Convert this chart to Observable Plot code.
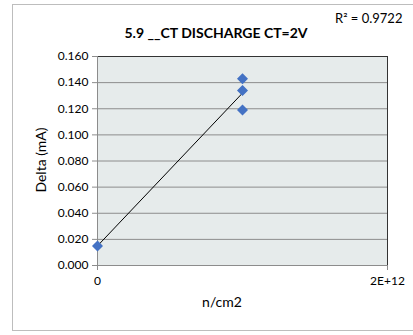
<!DOCTYPE html>
<html><head><meta charset="utf-8">
<script src="https://cdn.jsdelivr.net/npm/d3@7"></script>
<script src="https://cdn.jsdelivr.net/npm/@observablehq/plot@0.6"></script>
<style>
body{margin:0;background:#fff;overflow:hidden;font-family:Lato,"Open Sans",sans-serif;}
#wrap{position:relative;width:413px;height:335px;overflow:hidden;}
#border{position:absolute;left:12px;top:4px;width:460px;height:327px;border:1px solid #bdbdbd;box-sizing:border-box;}
.t{position:absolute;white-space:nowrap;color:#000;}
#title{left:216px;top:24px;transform:translateX(-50%);font-weight:bold;font-size:14px;}
#r2{left:335px;top:10px;font-size:13px;}
#xl{left:222px;top:293px;transform:translateX(-50%);font-size:14px;}
#yl{left:40px;top:160px;transform:translate(-50%,-50%) rotate(-90deg);font-size:14px;}
#chart{position:absolute;left:0;top:0;}
</style></head>
<body><div id="wrap"><div id="border"></div><div id="chart"></div>
<div class="t" id="title">5.9 __CT DISCHARGE CT=2V</div>
<div class="t" id="r2">R² = 0.9722</div>
<div class="t" id="xl">n/cm2</div>
<div class="t" id="yl">Delta (mA)</div>
</div>
<script>
const fluence = [0, 1e12, 1e12, 1e12];
const delta = [0.015, 0.143, 0.134, 0.119];
const xTicks = [0, 2e12];
const xTickLabels = ["0", "2E+12"];
const yTicks = [0, 0.02, 0.04, 0.06, 0.08, 0.10, 0.12, 0.14, 0.16];

const data = fluence.map((x, i) => ({x, y: delta[i]}));

const chart = Plot.plot({
  width: 413, height: 335,
  marginLeft: 97, marginRight: 26, marginTop: 56, marginBottom: 70,
  style: {fontFamily: "Lato, 'Open Sans', sans-serif", fontSize: "12px", background: "transparent", color: "#000"},
  x: {domain: [0, 2e12], label: null},
  y: {domain: [0, 0.16], label: null},
  marks: [
    Plot.frame({fill: "#e6ebeb", stroke: "none"}),
    Plot.gridY(yTicks, {stroke: "#8c8c8c", strokeOpacity: 1}),
    Plot.frame({stroke: "#333", fill: "none"}),
    Plot.ruleX([0], {stroke: "#8c8c8c"}),
    Plot.ruleY([0], {stroke: "#8c8c8c"}),
    Plot.axisX({ticks: xTicks, tickFormat: d => xTickLabels[xTicks.indexOf(d)], stroke: "#8c8c8c", tickSize: 5, tickPadding: 6, fontSize: 12}),
    Plot.axisY({ticks: yTicks, tickFormat: d3.format(".3f"), stroke: "#8c8c8c", tickSize: 5, tickPadding: 4, fontSize: 12}),
    Plot.linearRegressionY(data, {x: "x", y: "y", ci: 0, stroke: "#000", strokeWidth: 1}),
    Plot.dot(data, {x: "x", y: "y", symbol: "diamond2", r: 4, fill: "#4472c4", stroke: "#4472c4"})
  ]
});
document.getElementById("chart").appendChild(chart);
</script>
</body></html>
